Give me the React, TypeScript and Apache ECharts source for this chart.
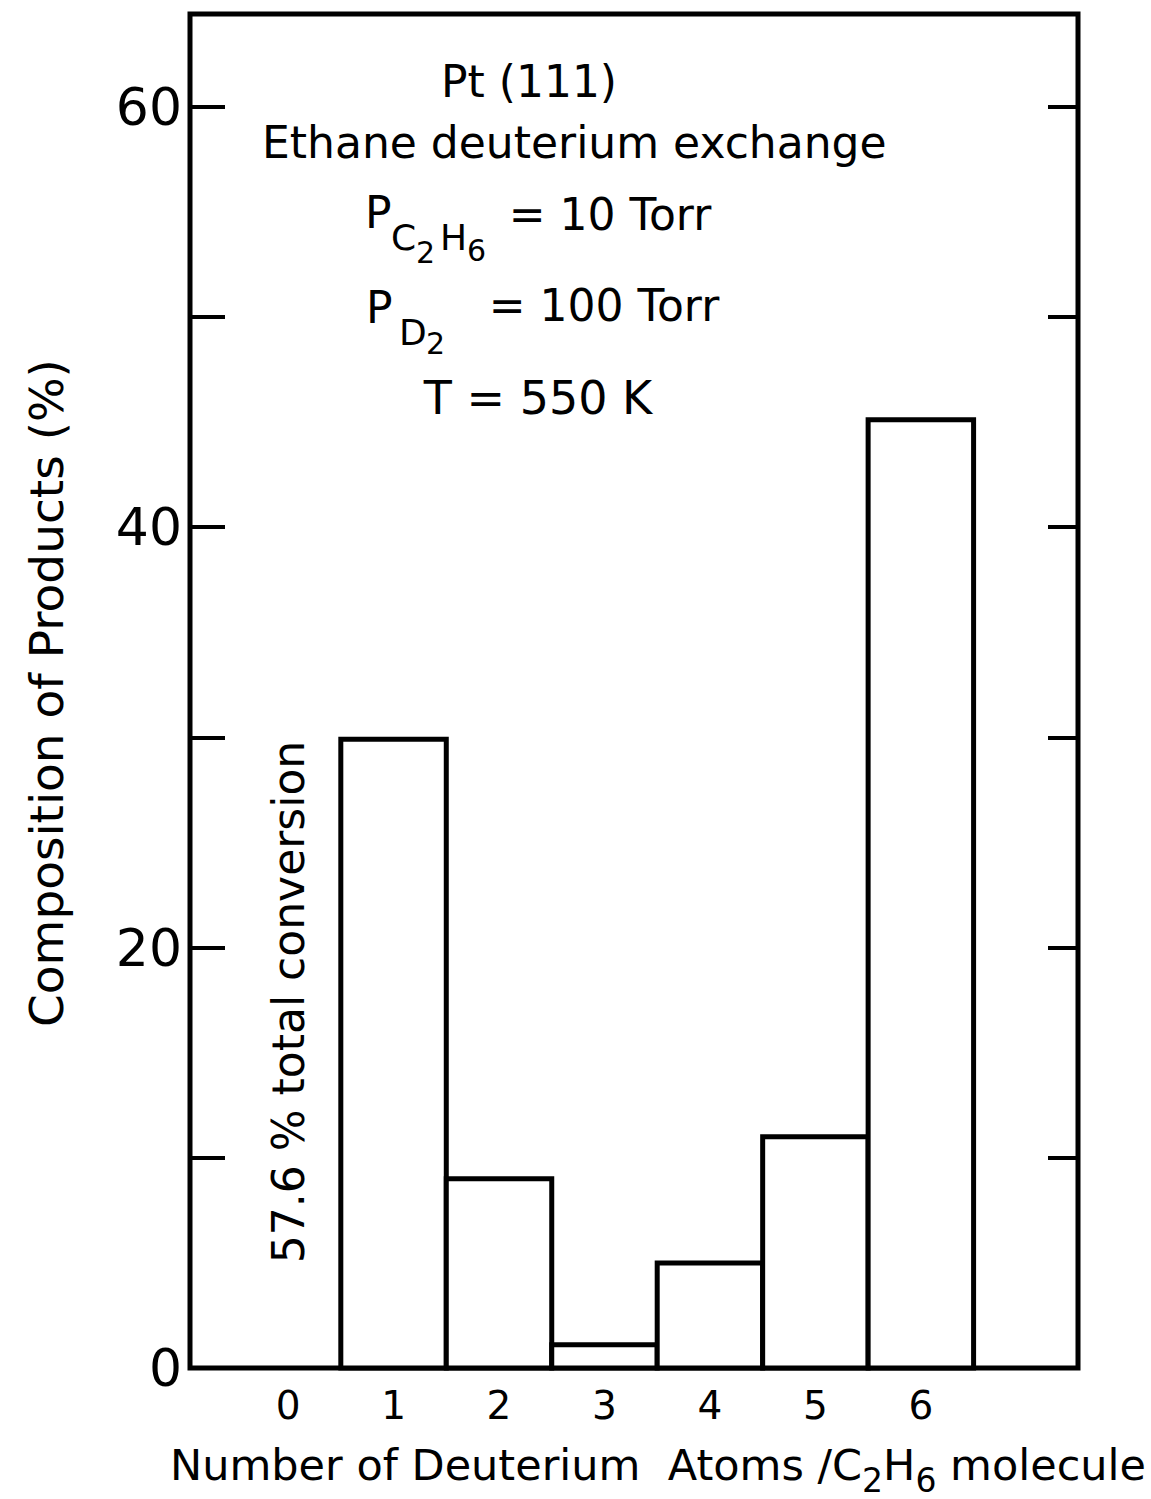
import React, { useEffect, useRef } from "react";
import * as echarts from "echarts";

// Number of deuterium atoms per C2H6 molecule (bar positions)
const deuteriumAtoms = [1, 2, 3, 4, 5, 6];
// Composition of products (%)
const composition = [29.9, 9.0, 1.1, 5.0, 11.0, 45.1];
// Axis tick labels
const xTickLabels = [0, 1, 2, 3, 4, 5, 6];
const yTickValues = [0, 10, 20, 30, 40, 50, 60];
const yLabelValues = [0, 20, 40, 60];

const FONT = '"DejaVu Sans", "Liberation Sans", sans-serif';

function txt(text: string, x: number, y: number, size: number, align = "left", extra: any = {}) {
  return {
    type: "text",
    x,
    y,
    silent: true,
    z: 10,
    ...extra,
    style: {
      text,
      fontSize: size,
      fontFamily: FONT,
      fill: "#000",
      align,
      textAlign: align,
      verticalAlign: "middle",
      textVerticalAlign: "middle",
    },
  };
}

export default function App() {
  const ref = useRef<HTMLDivElement>(null);

  useEffect(() => {
    const chart = echarts.init(ref.current!, null, { renderer: "svg" });
    const option: any = {
      animation: false,
      backgroundColor: "#ffffff",
      grid: {
        left: 190,
        right: 73,
        top: 14,
        bottom: 131,
        show: true,
        borderColor: "#000",
        borderWidth: 5,
        backgroundColor: "transparent",
      },
      xAxis: [
        {
          type: "value",
          min: -0.93,
          max: 7.49,
          axisLine: { show: false, onZero: false },
          axisTick: { show: false },
          splitLine: { show: false },
          axisLabel: {
            customValues: xTickLabels,
            fontSize: 39,
            fontFamily: FONT,
            color: "#000",
            margin: 18,
          },
        },
      ],
      yAxis: [
        {
          type: "value",
          position: "left",
          min: 0,
          max: 64.4,
          interval: 10,
          axisLine: { show: false, onZero: false },
          splitLine: { show: false },
          axisTick: {
            show: true,
            inside: true,
            length: 35,
            customValues: yTickValues,
            lineStyle: { color: "#000", width: 4 },
          },
          axisLabel: {
            customValues: yLabelValues,
            formatter: (v: number) => (v % 20 === 0 ? String(v) : ""),
            fontSize: 52,
            fontFamily: FONT,
            color: "#000",
            margin: 8,
          },
        },
        {
          type: "value",
          position: "right",
          min: 0,
          max: 64.4,
          interval: 10,
          axisLine: { show: false, onZero: false },
          splitLine: { show: false },
          axisLabel: { show: false },
          axisTick: {
            show: true,
            inside: true,
            length: 30,
            customValues: yTickValues,
            lineStyle: { color: "#000", width: 4 },
          },
        },
      ],
      series: [
        {
          type: "custom",
          xAxisIndex: 0,
          yAxisIndex: 0,
          data: deuteriumAtoms.map((a, i) => [a, composition[i]]),
          encode: { x: 0, y: 1 },
          z: 3,
          renderItem: (params: any, api: any) => {
            const x = api.value(0);
            const y = api.value(1);
            const p0 = api.coord([x - 0.5, y]);
            const p1 = api.coord([x + 0.5, 0]);
            return {
              type: "rect",
              shape: { x: p0[0], y: p0[1], width: p1[0] - p0[0], height: p1[1] - p0[1] },
              style: { fill: "#ffffff", stroke: "#000", lineWidth: 5 },
            };
          },
        },
      ],
      graphic: [
        txt("Pt (111)", 529, 81, 44, "center"),
        txt("Ethane deuterium exchange", 262, 142, 44, "left"),
        // P_{C2H6} = 10 Torr
        txt("P", 365, 212, 44, "left"),
        txt("C", 391, 237, 36, "left"),
        txt("2", 416, 252, 30, "left"),
        txt("H", 440, 237, 36, "left"),
        txt("6", 467, 250, 30, "left"),
        txt("= 10 Torr", 610, 214, 44, "center"),
        // P_{D2} = 100 Torr
        txt("P", 366, 307, 44, "left"),
        txt("D", 399, 332, 36, "left"),
        txt("2", 426, 343, 30, "left"),
        txt("= 100 Torr", 604, 305, 44, "center"),
        txt("T = 550 K", 538, 398, 46, "center"),
        // rotated annotation
        txt("57.6 % total conversion", 288, 1002, 44, "center", { rotation: Math.PI / 2 }),
        // y axis title
        txt("Composition of Products (%)", 46, 693, 47, "center", { rotation: Math.PI / 2 }),
        // x axis title with subscripts
        {
          type: "text",
          x: 170,
          y: 1465,
          silent: true,
          style: {
            text: "{n|Number of Deuterium  Atoms /C}{s|2}{n|H}{s|6}{n| molecule}",
            fill: "#000",
            align: "left",
            textAlign: "left",
            verticalAlign: "middle",
            textVerticalAlign: "middle",
            rich: {
              n: { fontSize: 43, fontFamily: FONT, fill: "#000" },
              s: { fontSize: 33, fontFamily: FONT, fill: "#000", padding: [30, 0, 0, 0] },
            },
          },
        },
      ],
    };
    chart.setOption(option);
    return () => chart.dispose();
  }, []);

  return (
    <div
      ref={ref}
      style={{ position: "absolute", left: 0, top: 0, width: 1151, height: 1499, background: "#fff" }}
    />
  );
}
